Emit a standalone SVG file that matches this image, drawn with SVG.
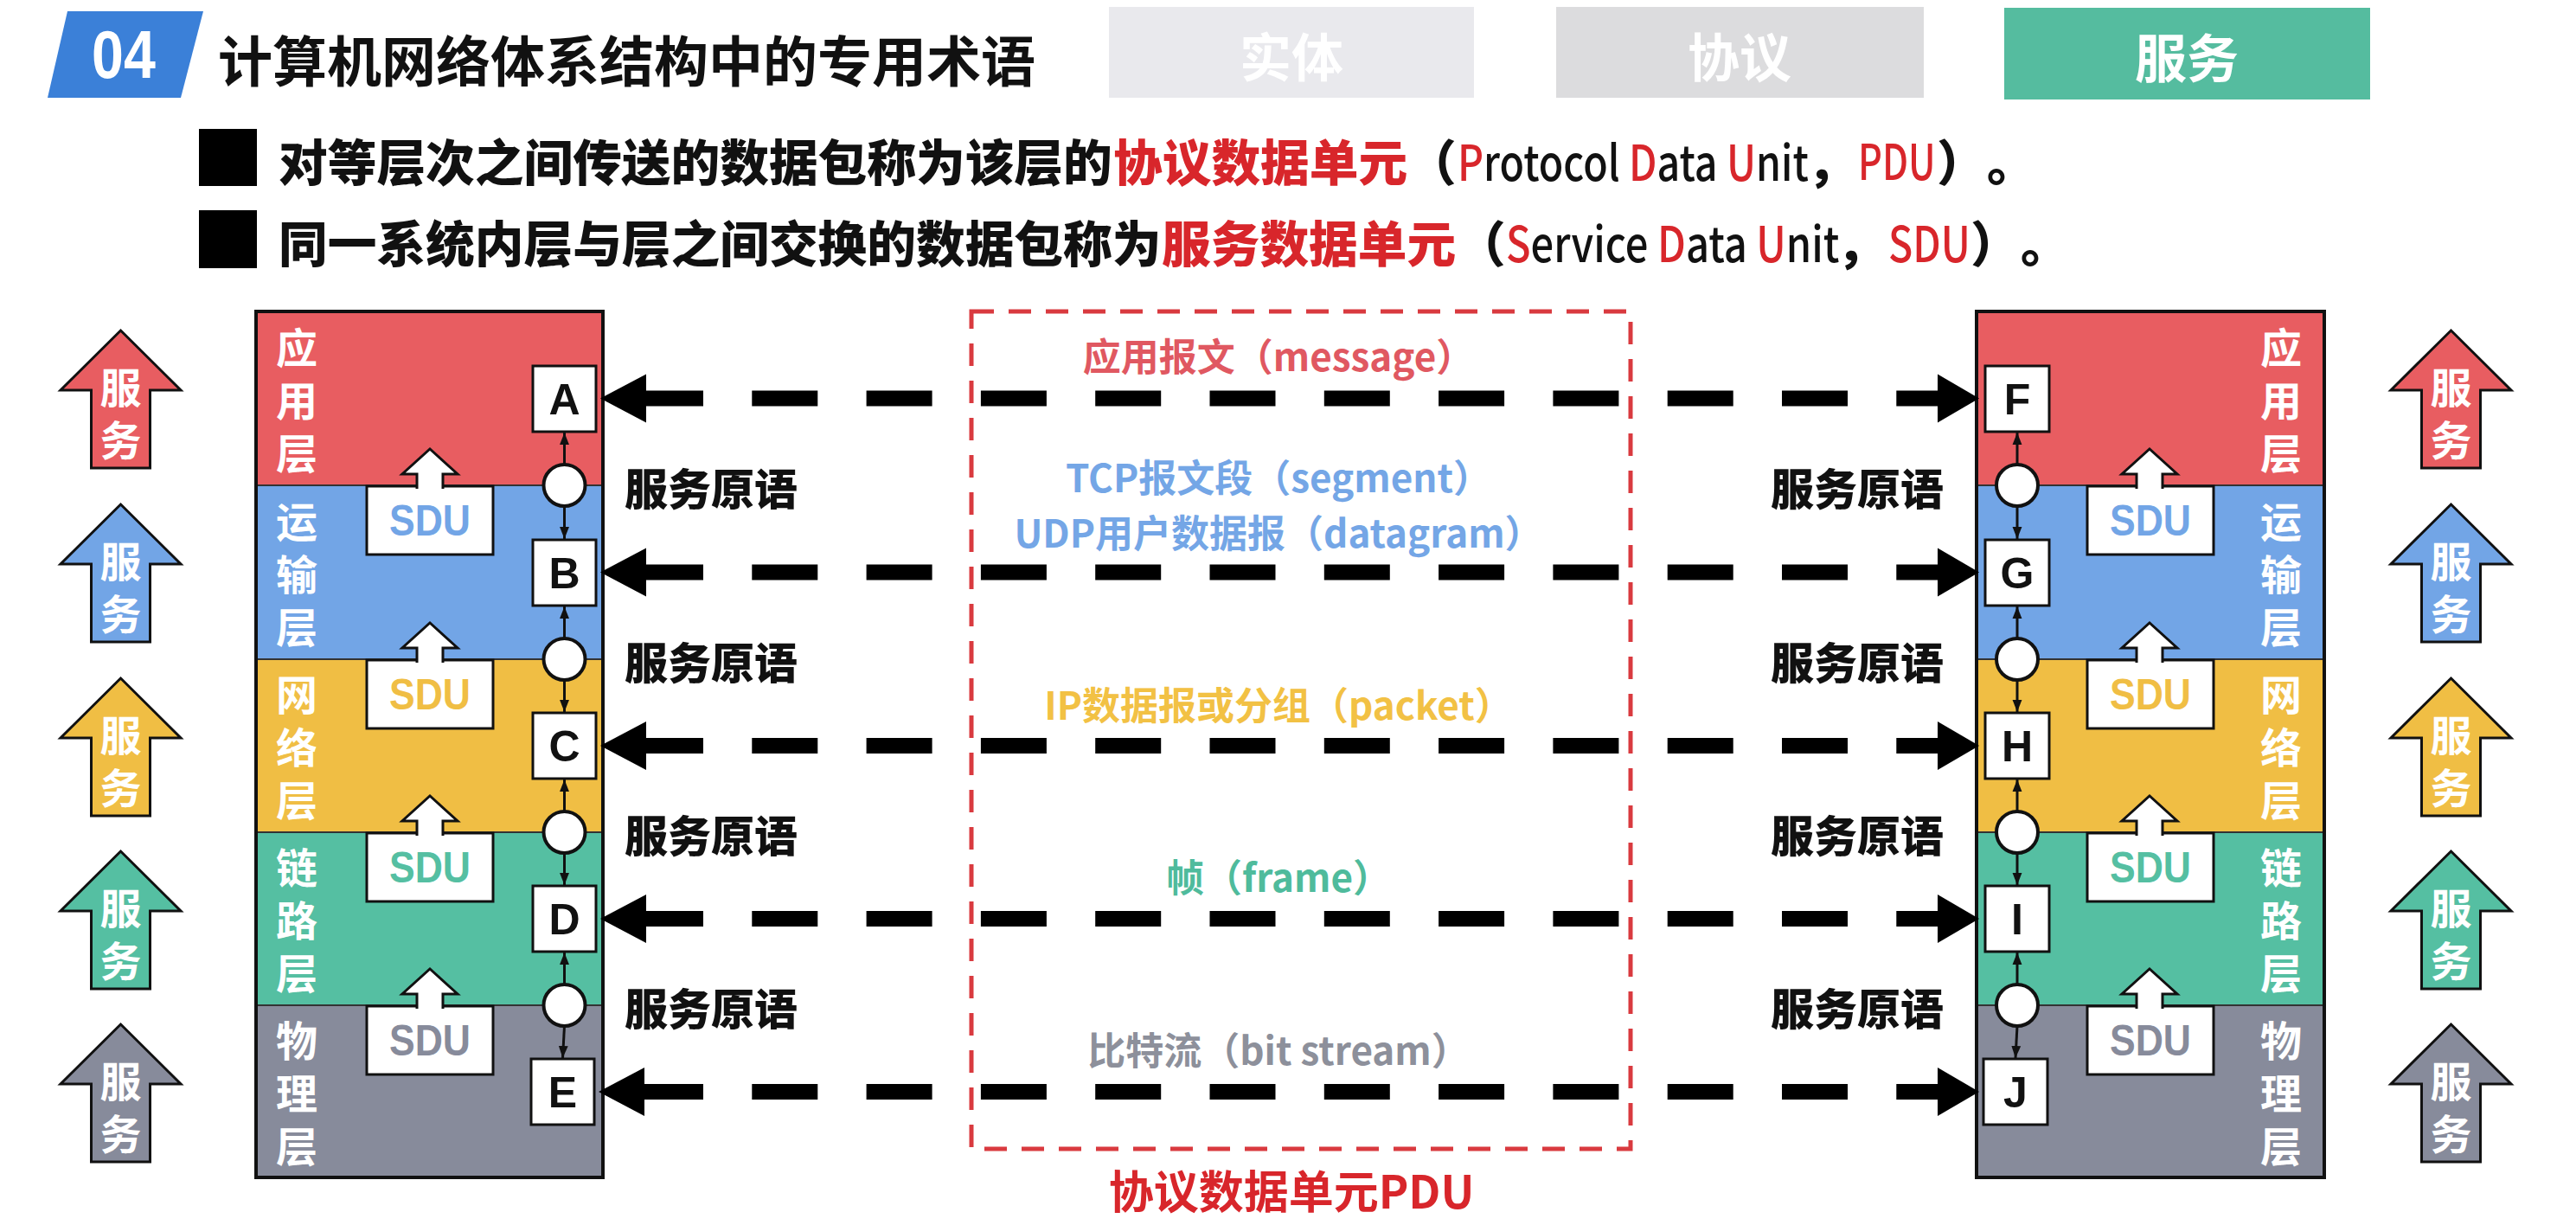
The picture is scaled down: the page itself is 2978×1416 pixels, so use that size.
<svg xmlns="http://www.w3.org/2000/svg" width="2978" height="1416" viewBox="0 0 2978 1416">
<defs>
<style>
.cjk{font-family:"Noto Sans CJK SC","Liberation Sans",sans-serif;font-weight:700;dominant-baseline:central}
.vt{font-family:"Noto Sans CJK SC","Liberation Sans",sans-serif;font-weight:700;writing-mode:vertical-rl;letter-spacing:13px;font-size:48px;fill:#fff;text-anchor:middle}
.lat{font-family:"Liberation Sans",Arial,sans-serif;font-weight:700}
.box{fill:#fff;stroke:#111;stroke-width:3}
.let{font-size:50px;fill:#111;text-anchor:middle}
.sdu{font-size:50px;text-anchor:middle}
.circ{fill:#fff;stroke:#111;stroke-width:4}
.prim{font-size:50px;fill:#111;font-weight:900}
.lbl{font-size:44px;text-anchor:middle}
.dash{stroke:#000;stroke-width:18;stroke-dasharray:76 56.3;fill:none}
.small{stroke:#111;stroke-width:3;fill:none;marker-end:url(#ah)}
.sarr{stroke:#111;stroke-width:3}
.sdua{fill:#fff;stroke:#111;stroke-width:3}
.bul{font-size:56.7px;fill:#111;font-weight:900}
.red{fill:#d8262b}
.latn{font-weight:500}
</style>
<marker id="ah" viewBox="0 0 18 14" refX="18" refY="7" markerWidth="14" markerHeight="16" markerUnits="userSpaceOnUse" orient="auto">
<path d="M0,0 L18,7 L0,14 Z" fill="#111"/>
</marker>
</defs>
<rect width="2978" height="1416" fill="#fff"/>

<!-- Header -->
<g id="header">
<polygon points="78,13 235,13 209,113 55,113" fill="#3b80d8"/>
<text class="lat" x="143" y="90" font-size="78" fill="#fff" text-anchor="middle" transform="translate(143 0) scale(0.85 1) translate(-143 0)">04</text>
<text class="cjk" x="252" y="66" font-size="63" font-weight="900" fill="#111">计算机网络体系结构中的专用术语</text>
</g>
<g id="tab-entity">
<rect x="1282" y="8" width="422" height="105" fill="#e9e9ed"/>
<text class="cjk" x="1493" y="62" font-size="60" fill="#fff" text-anchor="middle">实体</text>
</g>
<g id="tab-protocol">
<rect x="1799" y="8" width="425" height="105" fill="#dcdcde"/>
<text class="cjk" x="2011" y="62" font-size="60" fill="#fff" text-anchor="middle">协议</text>
</g>
<g id="tab-service">
<rect x="2317" y="9" width="423" height="106" fill="#55bc9f"/>
<text class="cjk" x="2528" y="63" font-size="60" fill="#fff" text-anchor="middle">服务</text>
</g>

<!-- Bullets -->
<g id="bullet-pdu">
<rect x="230" y="149" width="67" height="66" fill="#000"/>
<text class="cjk bul" x="322" y="184">对等层次之间传送的数据包称为该层的</text>
<text class="cjk bul red" x="1287" y="184">协议数据单元</text>
<text class="cjk bul" x="1627" y="184">（</text>
<text class="cjk bul latn" x="0" y="184" transform="translate(1685 0) scale(0.82 1)"><tspan class="red">P</tspan><tspan>rotocol </tspan><tspan class="red">D</tspan><tspan>ata </tspan><tspan class="red">U</tspan><tspan>nit</tspan></text>
<text class="cjk bul" x="2089" y="184">，</text>
<text class="cjk bul red latn" x="0" y="184" transform="translate(2148 0) scale(0.76 1)">PDU</text>
<text class="cjk bul" x="2239" y="184">）</text>
<text class="cjk bul" x="2297" y="184">。</text>
</g>
<g id="bullet-sdu">
<rect x="230" y="243" width="67" height="67" fill="#000"/>
<text class="cjk bul" x="322" y="278">同一系统内层与层之间交换的数据包称为</text>
<text class="cjk bul red" x="1343" y="278">服务数据单元</text>
<text class="cjk bul" x="1684" y="278">（</text>
<text class="cjk bul latn" x="0" y="278" transform="translate(1741 0) scale(0.83 1)"><tspan class="red">S</tspan><tspan>ervice </tspan><tspan class="red">D</tspan><tspan>ata </tspan><tspan class="red">U</tspan><tspan>nit</tspan></text>
<text class="cjk bul" x="2123" y="278">，</text>
<text class="cjk bul red latn" x="0" y="278" transform="translate(2183 0) scale(0.82 1)">SDU</text>
<text class="cjk bul" x="2278" y="278">）</text>
<text class="cjk bul" x="2336" y="278">。</text>
</g>

<!-- Left service arrows -->
<g id="left-services">
<g id="svcL1"><path class="sarr" fill="#e85d61" d="M139.5,382 L209,451 L173.5,451 L173.5,541 L105.5,541 L105.5,451 L70,451 Z"/><text class="vt" x="139.5" y="485">服务</text></g>
<g id="svcL2"><path class="sarr" fill="#72a5e6" d="M139.5,583 L209,652 L173.5,652 L173.5,742 L105.5,742 L105.5,652 L70,652 Z"/><text class="vt" x="139.5" y="686">服务</text></g>
<g id="svcL3"><path class="sarr" fill="#f0be44" d="M139.5,784 L209,853 L173.5,853 L173.5,943 L105.5,943 L105.5,853 L70,853 Z"/><text class="vt" x="139.5" y="887">服务</text></g>
<g id="svcL4"><path class="sarr" fill="#55bfa2" d="M139.5,984 L209,1053 L173.5,1053 L173.5,1143 L105.5,1143 L105.5,1053 L70,1053 Z"/><text class="vt" x="139.5" y="1087">服务</text></g>
<g id="svcL5"><path class="sarr" fill="#878b9b" d="M139.5,1184 L209,1253 L173.5,1253 L173.5,1343 L105.5,1343 L105.5,1253 L70,1253 Z"/><text class="vt" x="139.5" y="1287">服务</text></g>
</g>

<!-- Right service arrows -->
<g id="right-services">
<g id="svcR1"><path class="sarr" fill="#e85d61" d="M2833.5,382 L2903,451 L2867.5,451 L2867.5,541 L2799.5,541 L2799.5,451 L2764,451 Z"/><text class="vt" x="2833.5" y="485">服务</text></g>
<g id="svcR2"><path class="sarr" fill="#72a5e6" d="M2833.5,583 L2903,652 L2867.5,652 L2867.5,742 L2799.5,742 L2799.5,652 L2764,652 Z"/><text class="vt" x="2833.5" y="686">服务</text></g>
<g id="svcR3"><path class="sarr" fill="#f0be44" d="M2833.5,784 L2903,853 L2867.5,853 L2867.5,943 L2799.5,943 L2799.5,853 L2764,853 Z"/><text class="vt" x="2833.5" y="887">服务</text></g>
<g id="svcR4"><path class="sarr" fill="#55bfa2" d="M2833.5,984 L2903,1053 L2867.5,1053 L2867.5,1143 L2799.5,1143 L2799.5,1053 L2764,1053 Z"/><text class="vt" x="2833.5" y="1087">服务</text></g>
<g id="svcR5"><path class="sarr" fill="#878b9b" d="M2833.5,1184 L2903,1253 L2867.5,1253 L2867.5,1343 L2799.5,1343 L2799.5,1253 L2764,1253 Z"/><text class="vt" x="2833.5" y="1287">服务</text></g>
</g>

<!-- Left stack -->
<g id="left-stack">
<rect x="296" y="360" width="401" height="201" fill="#e85d61"/>
<rect x="296" y="561" width="401" height="201" fill="#72a5e6"/>
<rect x="296" y="762" width="401" height="200" fill="#f0be44"/>
<rect x="296" y="962" width="401" height="200" fill="#55bfa2"/>
<rect x="296" y="1162" width="401" height="199" fill="#878b9b"/>
<path d="M296,561 H697 M296,762 H697 M296,962 H697 M296,1162 H697" stroke="#333" stroke-width="2"/>
<rect x="296" y="360" width="401" height="1001" fill="none" stroke="#111" stroke-width="4"/>
<text class="vt" x="343" y="469">应用层</text>
<text class="vt" x="343" y="670">运输层</text>
<text class="vt" x="343" y="870">网络层</text>
<text class="vt" x="343" y="1070">链路层</text>
<text class="vt" x="343" y="1270">物理层</text>
</g>
<g id="sduL1"><rect class="box" x="424" y="562" width="146" height="79"/><path class="sdua" d="M482,565 V548 H465 L497,519 L529,548 H512 V565"/><text class="lat sdu" x="497" y="619" fill="#72a5e6" textLength="94" lengthAdjust="spacingAndGlyphs">SDU</text></g>
<g id="sduL2"><rect class="box" x="424" y="763" width="146" height="79"/><path class="sdua" d="M482,766 V749 H465 L497,720 L529,749 H512 V766"/><text class="lat sdu" x="497" y="820" fill="#f0be44" textLength="94" lengthAdjust="spacingAndGlyphs">SDU</text></g>
<g id="sduL3"><rect class="box" x="424" y="963" width="146" height="79"/><path class="sdua" d="M482,966 V949 H465 L497,920 L529,949 H512 V966"/><text class="lat sdu" x="497" y="1020" fill="#55bfa2" textLength="94" lengthAdjust="spacingAndGlyphs">SDU</text></g>
<g id="sduL4"><rect class="box" x="424" y="1163" width="146" height="79"/><path class="sdua" d="M482,1166 V1149 H465 L497,1120 L529,1149 H512 V1166"/><text class="lat sdu" x="497" y="1220" fill="#878b9b" textLength="94" lengthAdjust="spacingAndGlyphs">SDU</text></g>

<g id="nodeA"><rect class="box" x="616" y="423" width="73" height="76"/><text class="lat let" x="652.5" y="479">A</text></g>
<g id="nodeB"><rect class="box" x="616" y="624" width="73" height="76"/><text class="lat let" x="652.5" y="680">B</text></g>
<g id="nodeC"><rect class="box" x="616" y="824" width="73" height="76"/><text class="lat let" x="652.5" y="880">C</text></g>
<g id="nodeD"><rect class="box" x="616" y="1024" width="73" height="76"/><text class="lat let" x="652.5" y="1080">D</text></g>
<g id="nodeE"><rect class="box" x="614" y="1224" width="73" height="76"/><text class="lat let" x="650.5" y="1280">E</text></g>

<!-- Right stack -->
<g id="right-stack">
<rect x="2285" y="360" width="402" height="201" fill="#e85d61"/>
<rect x="2285" y="561" width="402" height="201" fill="#72a5e6"/>
<rect x="2285" y="762" width="402" height="200" fill="#f0be44"/>
<rect x="2285" y="962" width="402" height="200" fill="#55bfa2"/>
<rect x="2285" y="1162" width="402" height="199" fill="#878b9b"/>
<path d="M2285,561 H2687 M2285,762 H2687 M2285,962 H2687 M2285,1162 H2687" stroke="#333" stroke-width="2"/>
<rect x="2285" y="360" width="402" height="1001" fill="none" stroke="#111" stroke-width="4"/>
<text class="vt" x="2637" y="469">应用层</text>
<text class="vt" x="2637" y="670">运输层</text>
<text class="vt" x="2637" y="870">网络层</text>
<text class="vt" x="2637" y="1070">链路层</text>
<text class="vt" x="2637" y="1270">物理层</text>
</g>
<g id="sduR1"><rect class="box" x="2413" y="562" width="146" height="79"/><path class="sdua" d="M2470,565 V548 H2453 L2485,519 L2517,548 H2500 V565"/><text class="lat sdu" x="2486" y="619" fill="#72a5e6" textLength="94" lengthAdjust="spacingAndGlyphs">SDU</text></g>
<g id="sduR2"><rect class="box" x="2413" y="763" width="146" height="79"/><path class="sdua" d="M2470,766 V749 H2453 L2485,720 L2517,749 H2500 V766"/><text class="lat sdu" x="2486" y="820" fill="#f0be44" textLength="94" lengthAdjust="spacingAndGlyphs">SDU</text></g>
<g id="sduR3"><rect class="box" x="2413" y="963" width="146" height="79"/><path class="sdua" d="M2470,966 V949 H2453 L2485,920 L2517,949 H2500 V966"/><text class="lat sdu" x="2486" y="1020" fill="#55bfa2" textLength="94" lengthAdjust="spacingAndGlyphs">SDU</text></g>
<g id="sduR4"><rect class="box" x="2413" y="1163" width="146" height="79"/><path class="sdua" d="M2470,1166 V1149 H2453 L2485,1120 L2517,1149 H2500 V1166"/><text class="lat sdu" x="2486" y="1220" fill="#878b9b" textLength="94" lengthAdjust="spacingAndGlyphs">SDU</text></g>

<g id="nodeF"><rect class="box" x="2295" y="423" width="74" height="76"/><text class="lat let" x="2332" y="479">F</text></g>
<g id="nodeG"><rect class="box" x="2295" y="624" width="74" height="76"/><text class="lat let" x="2332" y="680">G</text></g>
<g id="nodeH"><rect class="box" x="2295" y="824" width="74" height="76"/><text class="lat let" x="2332" y="880">H</text></g>
<g id="nodeI"><rect class="box" x="2295" y="1024" width="74" height="76"/><text class="lat let" x="2332" y="1080">I</text></g>
<g id="nodeJ"><rect class="box" x="2293" y="1224" width="74" height="76"/><text class="lat let" x="2330" y="1280">J</text></g>

<!-- PDU region -->
<g id="pdu-region">
<rect x="1123" y="360" width="762" height="968" fill="none" stroke="#d93a3f" stroke-width="5" stroke-dasharray="26 17"/>
<text class="cjk lbl" x="1478" y="410" fill="#e05861">应用报文（message）</text>
<text class="cjk lbl" x="1478" y="550" fill="#74a6e6">TCP报文段（segment）</text>
<text class="cjk lbl" x="1478" y="614" fill="#74a6e6">UDP用户数据报（datagram）</text>
<text class="cjk lbl" x="1478" y="813" fill="#f2c144">IP数据报或分组（packet）</text>
<text class="cjk lbl" x="1478" y="1012" fill="#4fbb9c">帧（frame）</text>
<text class="cjk lbl" x="1478" y="1212" fill="#8d909b">比特流（bit stream）</text>
<text class="cjk" x="1493" y="1374" font-size="52" fill="#d8262b" text-anchor="middle">协议数据单元PDU</text>
</g>

<!-- Service primitives (SAP circles) -->
<g id="sap-left">
<circle class="circ" cx="652.5" cy="561" r="24"/><circle class="circ" cx="652.5" cy="762" r="24"/><circle class="circ" cx="652.5" cy="962" r="24"/><circle class="circ" cx="652.5" cy="1162" r="24"/>
<text class="cjk prim" x="722" y="562">服务原语</text><text class="cjk prim" x="722" y="763">服务原语</text><text class="cjk prim" x="722" y="963">服务原语</text><text class="cjk prim" x="722" y="1163">服务原语</text>
</g>
<g id="sap-right">
<circle class="circ" cx="2332" cy="561" r="24"/><circle class="circ" cx="2332" cy="762" r="24"/><circle class="circ" cx="2332" cy="962" r="24"/><circle class="circ" cx="2332" cy="1162" r="24"/>
<text class="cjk prim" x="2047" y="562">服务原语</text><text class="cjk prim" x="2047" y="763">服务原语</text><text class="cjk prim" x="2047" y="963">服务原语</text><text class="cjk prim" x="2047" y="1163">服务原语</text>
</g>

<!-- Connectors -->
<g id="connectors">
<g id="peer-links">
<line class="dash" x1="737" y1="460.5" x2="2244" y2="460.5"/>
<line class="dash" x1="737" y1="661.5" x2="2244" y2="661.5"/>
<line class="dash" x1="737" y1="862" x2="2244" y2="862"/>
<line class="dash" x1="737" y1="1062" x2="2244" y2="1062"/>
<line class="dash" x1="737" y1="1262" x2="2244" y2="1262"/>
<g fill="#000">
<polygon points="694,460.5 747,432.5 747,488.5"/><polygon points="2288,460.5 2240,432.5 2240,488.5"/>
<polygon points="694,661.5 747,633.5 747,689.5"/><polygon points="2288,661.5 2240,633.5 2240,689.5"/>
<polygon points="694,862 747,834 747,890"/><polygon points="2288,862 2240,834 2240,890"/>
<polygon points="694,1062 747,1034 747,1090"/><polygon points="2288,1062 2240,1034 2240,1090"/>
<polygon points="692,1262 745,1234 745,1290"/><polygon points="2288,1262 2240,1234 2240,1290"/>
</g>
</g>
<g id="sap-links-left">
<line class="small" x1="652.5" y1="537" x2="652.5" y2="500"/>
<line class="small" x1="652.5" y1="585" x2="652.5" y2="623"/>
<line class="small" x1="652.5" y1="738" x2="652.5" y2="701"/>
<line class="small" x1="652.5" y1="786" x2="652.5" y2="823"/>
<line class="small" x1="652.5" y1="938" x2="652.5" y2="901"/>
<line class="small" x1="652.5" y1="986" x2="652.5" y2="1023"/>
<line class="small" x1="652.5" y1="1138" x2="652.5" y2="1101"/>
<line class="small" x1="652.5" y1="1186" x2="650.5" y2="1223"/>
</g>
<g id="sap-links-right">
<line class="small" x1="2332" y1="537" x2="2332" y2="500"/>
<line class="small" x1="2332" y1="585" x2="2332" y2="623"/>
<line class="small" x1="2332" y1="738" x2="2332" y2="701"/>
<line class="small" x1="2332" y1="786" x2="2332" y2="823"/>
<line class="small" x1="2332" y1="938" x2="2332" y2="901"/>
<line class="small" x1="2332" y1="986" x2="2332" y2="1023"/>
<line class="small" x1="2332" y1="1138" x2="2332" y2="1101"/>
<line class="small" x1="2332" y1="1186" x2="2330" y2="1223"/>
</g>
</g>
</svg>
